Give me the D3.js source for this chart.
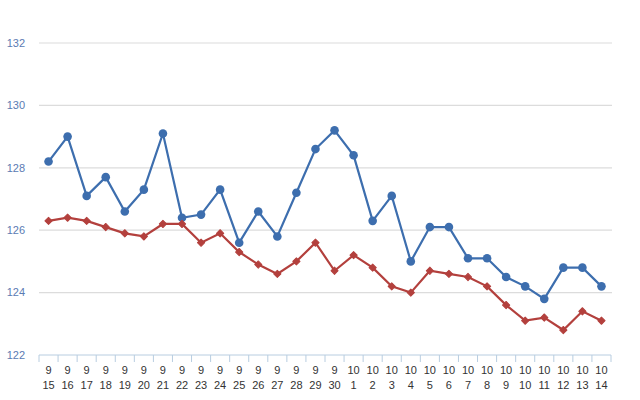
<!DOCTYPE html>
<html><head><meta charset="utf-8">
<script src="https://cdn.jsdelivr.net/npm/d3@7"></script>
<style>body{margin:0;background:#fff;} svg{display:block;font-family:"Liberation Sans",Arial,sans-serif;}</style>
</head><body>
<svg id="c" width="640" height="400"></svg>
<script>
const months = ["9","9","9","9","9","9","9","9","9","9","9","9","9","9","9","9","10","10","10","10","10","10","10","10","10","10","10","10","10","10"];
const days = ["15","16","17","18","19","20","21","22","23","24","25","26","27","28","29","30","1","2","3","4","5","6","7","8","9","10","11","12","13","14"];
const blueValues = [128.2,129.0,127.1,127.7,126.6,127.3,129.1,126.4,126.5,127.3,125.6,126.6,125.8,127.2,128.6,129.2,128.4,126.3,127.1,125.0,126.1,126.1,125.1,125.1,124.5,124.2,123.8,124.8,124.8,124.2];
const redValues = [126.3,126.4,126.3,126.1,125.9,125.8,126.2,126.2,125.6,125.9,125.3,124.9,124.6,125.0,125.6,124.7,125.2,124.8,124.2,124.0,124.7,124.6,124.5,124.2,123.6,123.1,123.2,122.8,123.4,123.1];
const yTicks = [122,124,126,128,130,132];

(function(){
const svg = d3.select("#c");
const mLeft = 39, mRight = 611, mTop = 43, mBottom = 355;
const idx = d3.range(months.length);
const x = d3.scaleBand().domain(idx).range([mLeft, mRight]);
const y = d3.scaleLinear().domain([122, 132]).range([mBottom, mTop]);

// gridlines
svg.append("g").selectAll("line").data(yTicks.filter(t => t !== 122)).join("line")
  .attr("x1", mLeft).attr("x2", mRight + 1)
  .attr("y1", d => y(d)).attr("y2", d => y(d))
  .attr("stroke", "#dcdcdc").attr("stroke-width", 1.2);

// y labels
svg.append("g").selectAll("text").data(yTicks).join("text")
  .attr("x", 25).attr("y", d => y(d)).attr("dy", "0.35em")
  .attr("text-anchor", "end").attr("fill", "#5b7bb3").attr("font-size", 11)
  .text(d => d);

// x axis baseline & ticks
const ax = svg.append("g");
ax.append("line").attr("x1", mLeft).attr("x2", mRight).attr("y1", mBottom).attr("y2", mBottom)
  .attr("stroke", "#b8cde0").attr("stroke-width", 1);
ax.selectAll("line.t").data(d3.range(months.length + 1)).join("line").attr("class","t")
  .attr("x1", d => mLeft + d * x.bandwidth()).attr("x2", d => mLeft + d * x.bandwidth())
  .attr("y1", mBottom).attr("y2", mBottom + 7)
  .attr("stroke", "#b8cde0").attr("stroke-width", 1);
ax.selectAll("text.m").data(idx).join("text").attr("class","m")
  .attr("x", d => x(d) + x.bandwidth()/2).attr("y", 374)
  .attr("text-anchor", "middle").attr("font-size", 11).attr("fill", "#333")
  .text(d => months[d]);
ax.selectAll("text.d").data(idx).join("text").attr("class","d")
  .attr("x", d => x(d) + x.bandwidth()/2).attr("y", 389)
  .attr("text-anchor", "middle").attr("font-size", 11).attr("fill", "#333")
  .text(d => days[d]);

const cx = i => x(i) + x.bandwidth()/2;
const line = d3.line().x((d,i) => cx(i)).y(d => y(d));

// blue series
svg.append("path").datum(blueValues).attr("d", line)
  .attr("fill", "none").attr("stroke", "#3d6eae").attr("stroke-width", 2.2);
svg.append("g").selectAll("circle").data(blueValues).join("circle")
  .attr("cx", (d,i) => cx(i)).attr("cy", d => y(d)).attr("r", 4.3)
  .attr("fill", "#3d6eae");

// red series
svg.append("path").datum(redValues).attr("d", line)
  .attr("fill", "none").attr("stroke", "#b3403d").attr("stroke-width", 2.2);
const diamond = d3.symbol().type(d3.symbolSquare).size(26);
svg.append("g").selectAll("path").data(redValues).join("path")
  .attr("transform", (d,i) => `translate(${cx(i)},${y(d)}) rotate(45)`)
  .attr("d", diamond).attr("fill", "#b3403d")
  .attr("stroke", "#b3403d").attr("stroke-width", 1).attr("stroke-linejoin", "round");
})();
</script>
</body></html>
